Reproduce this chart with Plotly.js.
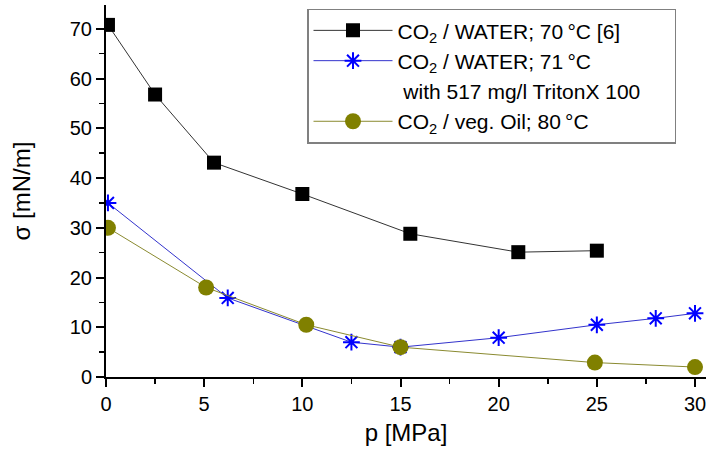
<!DOCTYPE html>
<html>
<head>
<meta charset="utf-8">
<script src="https://cdn.plot.ly/plotly-3.0.1.min.js"></script>
<style>html,body{margin:0;padding:0;background:#fff;}#chart{width:706px;height:456px;}</style>
</head>
<body>
<div id="chart"></div>
<script>
// Data
const waterP = [0.1, 2.5, 5.5, 10.0, 15.5, 21.0, 25.0];
const waterSigma = [70.8, 56.8, 43.1, 36.8, 28.8, 25.1, 25.4];

const tritonP = [0.1, 6.2, 12.5, 15.0, 20.0, 25.0, 28.0, 30.0];
const tritonSigma = [35.0, 15.9, 7.0, 6.0, 7.9, 10.5, 11.8, 12.8];

const oilP = [0.1, 5.1, 10.2, 15.0, 24.9, 30.0];
const oilSigma = [30.0, 18.0, 10.5, 6.0, 2.9, 2.0];

const names = [
  'CO<sub>2</sub> / WATER; 70\u2009\u00B0C [6]',
  'CO<sub>2</sub> / WATER; 71\u2009\u00B0C',
  ' with 517 mg/l TritonX 100\u00A0\u00A0\u00A0\u00A0\u00A0',
  'CO<sub>2</sub> / veg. Oil; 80\u2009\u00B0C'
];

const fontFam = 'Liberation Sans, Arial, sans-serif';

const traces = [
  {
    x: waterP, y: waterSigma, name: names[0], mode: 'lines+markers',
    line: {color: '#333333', width: 1},
    marker: {symbol: 'square', size: 14, color: '#000000'}
  },
  {
    x: tritonP, y: tritonSigma, name: names[1], mode: 'lines+markers',
    line: {color: '#3333cc', width: 1},
    marker: {symbol: 'asterisk-open', size: 14, color: '#0000ff', line: {color: '#0000ff', width: 2}}
  },
  {
    x: [null], y: [null], name: names[2], mode: 'lines',
    line: {color: 'rgba(0,0,0,0)', width: 0}, hoverinfo: 'skip'
  },
  {
    x: oilP, y: oilSigma, name: names[3], mode: 'lines+markers',
    line: {color: '#8a8a30', width: 1},
    marker: {symbol: 'circle', size: 16, color: '#808000'}
  }
];

const layout = {
  width: 706, height: 456,
  margin: {l: 106, r: 0, t: 5, b: 79},
  paper_bgcolor: '#ffffff', plot_bgcolor: '#ffffff',
  font: {family: fontFam, color: '#000000', size: 20},
  showlegend: true,
  legend: {
    x: 0.335, y: 0.99, xanchor: 'left', yanchor: 'top',
    bordercolor: '#808080', borderwidth: 1.5, bgcolor: '#ffffff',
    font: {family: fontFam, size: 21, color: '#000000'},
    itemwidth: 79, tracegroupgap: 0, traceorder: 'normal'
  },
  xaxis: {
    range: [0, 30.56], showgrid: false, zeroline: false,
    showline: true, linecolor: '#000000', linewidth: 2,
    ticks: 'outside', ticklen: 8, tickwidth: 2, tickcolor: '#000000',
    tick0: 0, dtick: 5, ticklabeloverflow: 'allow',
    minor: {dtick: 2.5, ticks: 'outside', ticklen: 5, tickwidth: 1.5, tickcolor: '#000000', showgrid: false},
    tickfont: {size: 20},
    title: {text: 'p [MPa]', font: {size: 24}, standoff: 10}
  },
  yaxis: {
    range: [0, 74.8], showgrid: false, zeroline: false,
    showline: true, linecolor: '#000000', linewidth: 2,
    ticks: 'outside', ticklen: 8, tickwidth: 2, tickcolor: '#000000',
    tick0: 0, dtick: 10,
    minor: {dtick: 5, ticks: 'outside', ticklen: 5, tickwidth: 1.5, tickcolor: '#000000', showgrid: false},
    tickfont: {size: 20},
    title: {text: '\u03C3 [mN/m]', font: {size: 24}, standoff: 32}
  }
};

Plotly.newPlot('chart', traces, layout, {displayModeBar: false, staticPlot: true});
</script>
</body>
</html>
